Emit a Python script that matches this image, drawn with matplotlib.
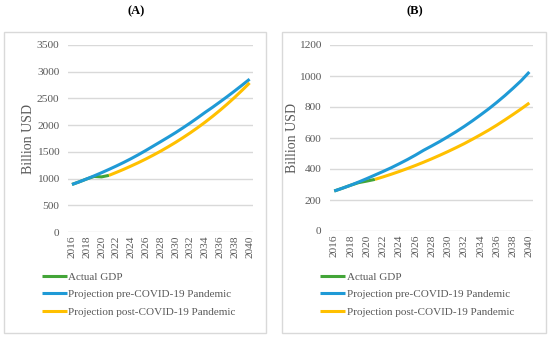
import matplotlib
matplotlib.use("Agg")
import matplotlib.pyplot as plt
from matplotlib.patches import Rectangle

plt.rcParams["font.family"] = ["Liberation Serif", "DejaVu Serif"]

years = list(range(2016, 2041))
year_labels = [str(y) if y % 2 == 0 else "" for y in years]

# Panel A
actual_years_a = [2016, 2017, 2018, 2019, 2020, 2021]
actual_a = [890, 940, 994, 1040, 1032, 1060]
pre_a = [890, 940, 994, 1051, 1110, 1172, 1236, 1303, 1374, 1449, 1528, 1610,
         1692, 1775, 1860, 1950, 2043, 2140, 2240, 2335, 2435, 2537, 2642,
         2750, 2860]
post_years_a = list(range(2021, 2041))
post_a = [1060, 1116, 1174, 1236, 1300, 1368, 1440, 1515, 1595, 1678, 1766,
          1858, 1955, 2057, 2165, 2278, 2397, 2522, 2654, 2790]

# Panel B
actual_years_b = [2016, 2017, 2018, 2019, 2020, 2021]
actual_b = [258, 276, 295, 312, 322, 333]
pre_b = [258, 276, 295, 316, 338, 361, 384, 408, 434, 461, 490, 521, 549, 578,
         609, 641, 675, 711, 749, 788, 830, 874, 921, 970, 1026]
post_years_b = list(range(2021, 2041))
post_b = [333, 349, 366, 384, 403, 423, 444, 466, 489, 513, 538, 564, 592, 621,
          651, 683, 717, 752, 788, 826]

labels = ["Actual GDP", "Projection pre-COVID-19 Pandemic",
          "Projection post-COVID-19 Pandemic"]
green, blue, yellow = "#43a538", "#1f9ad6", "#ffc000"
grid_c = "#d9d9d9"
text_c = "#595959"

W, H = 550, 337
fig = plt.figure(figsize=(W / 100, H / 100), dpi=100, facecolor="white")


def frac(x0, y_top, x1, y_bot):
    return [x0 / W, (H - y_bot) / H, (x1 - x0) / W, (y_bot - y_top) / H]


# panel frames
for x0, x1 in [(4, 266), (282, 546)]:
    fig.add_artist(Rectangle((x0 / W, (H - 333) / H), (x1 - x0) / W, 301 / H,
                             transform=fig.transFigure, fill=False,
                             edgecolor=grid_c, linewidth=1))

panels = [
    (frac(68.3, 45, 253.3, 232), 3500, 500, actual_years_a, actual_a, pre_a,
     post_years_a, post_a, "(A)", 136, -0.18, 41.7),
    (frac(330.2, 45, 533.4, 231), 1200, 200, actual_years_b, actual_b, pre_b,
     post_years_b, post_b, "(B)", 415, -0.155, 320),
]

for (rect, ymax, ystep, ay, av, pre, py, pv, title, tx, ylx, legx) in panels:
    ax = fig.add_axes(rect)
    ax.plot(ay, av, color=green, lw=2.2, label=labels[0], solid_capstyle="butt")
    ax.plot(years, pre, color=blue, lw=2.2, label=labels[1], solid_capstyle="butt")
    ax.plot(py, pv, color=yellow, lw=2.2, label=labels[2], solid_capstyle="butt")
    ax.set_xlim(2015.5, 2040.5)
    ax.set_ylim(0, ymax)
    ax.set_yticks(range(0, ymax + 1, ystep))
    ax.set_xticks(years)
    ax.set_xticklabels(year_labels, rotation=90)
    ax.grid(axis="y", color=grid_c, lw=1)
    ax.set_axisbelow(True)
    for s in ["top", "right", "left", "bottom"]:
        ax.spines[s].set_visible(False)
    ax.tick_params(axis="both", length=0, colors=text_c, labelsize=8.2)
    ax.tick_params(axis="y", pad=6.5)
    ax.tick_params(axis="x", pad=2.5)
    ax.set_ylabel("Billion USD", fontsize=10, color=text_c)
    ax.yaxis.set_label_coords(ylx, 0.5)
    ax.legend(loc="upper left", bbox_to_anchor=(legx / W, (H - 272) / H),
              bbox_transform=fig.transFigure, frameon=False, fontsize=8,
              handlelength=2.25, handletextpad=0.15, labelspacing=0.7,
              borderpad=0, borderaxespad=0, labelcolor=text_c)
    fig.text(tx / W, (H - 11) / H, title, ha="center", va="center",
             fontsize=9, fontweight="bold")

fig.savefig("out.png", dpi=100, facecolor="white")
